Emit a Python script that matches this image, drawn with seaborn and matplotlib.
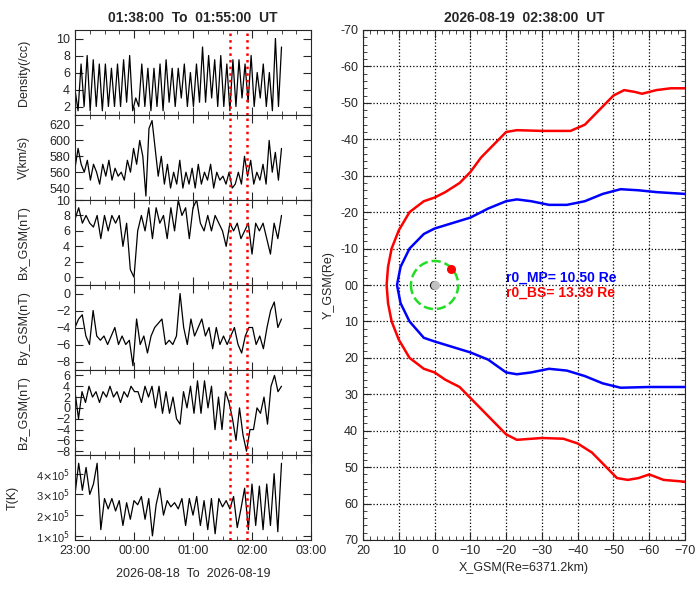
import numpy as np
import pandas as pd
import seaborn as sns
import matplotlib.pyplot as plt
import matplotlib.ticker as mticker

sns.set_style("ticks")
plt.rcParams['font.family'] = ['Liberation Sans', 'DejaVu Sans']
plt.rcParams['font.size'] = 9

# solar wind series (hours after 2026-08-18 23:00)
density = [4, 1.5, 7, 2, 8, 1.5, 7.5, 2, 7, 1.5, 7, 2, 6.5, 2, 7, 2, 7.5, 2.5, 8, 1.5, 3, 2, 7, 2, 6.5,
           1.5, 6.5, 2, 7, 1.5, 7.5, 2.5, 6.5, 2, 6.5, 3, 7, 2, 6, 2, 7, 2.5, 9, 2.5, 8, 3, 7.5, 2, 8, 2,
           7, 1.5, 7.5, 2, 7.5, 3, 7, 2.5, 8, 2, 6, 3, 7, 2, 6, 1.5, 10, 2, 9]
speed = [565, 590, 570, 560, 575, 550, 570, 560, 545, 570, 555, 575, 550, 565, 555, 560, 550, 575, 560, 590,
         570, 600, 580, 530, 615, 625, 590, 555, 580, 545, 570, 540, 560, 545, 575, 540, 560, 545, 565, 540,
         570, 545, 560, 550, 570, 540, 560, 550, 555, 545, 560, 540, 545, 560, 545, 580, 555, 575, 545, 560,
         550, 570, 545, 600, 560, 585, 550, 590]
bx = [7.5, 9, 7, 8, 7, 6.5, 8, 5, 8, 6, 8, 7, 8, 4, 7, 1, 0, 6, 8, 6, 9, 5, 9, 7, 8, 5, 9, 6, 10, 8, 9, 5,
      9, 10, 7, 6, 8, 6, 8, 7, 6, 4, 7, 6, 7, 5, 6, 7, 3, 7, 6, 7, 5, 3, 7, 5, 8]
by = [-4, -3, -2.5, -5, -6, -2, -5, -5.5, -5, -6, -5, -4, -6, -5, -6, -5.5, -8.5, -3, -6, -5, -7, -5, -4,
      -3.5, -3, -6, -5.5, -6, -5, 0, -4, -6, -3, -5, -4, -3, -5, -4, -6.5, -4, -6, -5, -6, -5, -4, -6, -7,
      -5, -4, -4, -6, -5, -6.5, -4, -2, -1, -4, -3]
bz = [3, -2, 3, 1, 4, 2, 3, 1, 3, 2, 4, 2, 3, 1, 3, 2, 4, 3, 3, 1, 4, 2, 4, 0, 4, -1, 3, -1, 2, -2, -3, 3,
      0, 4, -1, 5, -1, 5, 0, 4, -4, 2, -4, 3, 1, -2, -6, 0, -5, -8, -4, -4, 0, -1, 2, -3, 4, 6, 3, 4]
temp = [3, 4.5, 3.2, 4.3, 3, 3.5, 4.5, 1.3, 2.8, 2.3, 2.8, 2.2, 2.7, 1.5, 2.6, 1.8, 2.7, 2.5, 2.9, 1.8,
        2.8, 1, 2.5, 3.3, 2, 2.7, 2.4, 2.6, 2.3, 2.8, 1.5, 2.8, 2, 2.9, 1.5, 2.7, 1.3, 2.8, 1.1, 2.8, 2.4,
        2.7, 2.3, 2.9, 1.4, 2.3, 3.3, 1.3, 3.5, 1.5, 3.4, 1.3, 3.5, 1.5, 4, 1.2, 4.5]
window = [2 + 38 / 60, 2 + 55 / 60]

# magnetopause / bow shock (x, y) in Re
mp_x = [-70, -62, -57, -52, -47, -42, -37, -32, -27, -23, -20, -15, -10, -5, 0, 3, 7, 9.5, 10.5,
        9.5, 7, 3, 0, -5, -10, -15, -20, -23, -27, -32, -37, -42, -47, -52, -60, -70]
mp_y = [-25, -25.5, -26, -26.3, -25, -23, -22, -22, -23, -23.5, -23, -21, -18.5, -17, -15.5, -14, -10, -5, 0,
        5, 10, 14.5, 15.5, 17, 18.5, 20.5, 24, 24.5, 24, 23, 23.5, 25, 27, 28.2, 28, 28]
bs_x = [-70, -66, -62, -58, -56, -53, -50, -46, -42, -38, -30, -23, -20, -17, -13, -10, -7, -3, 0, 3, 7, 10,
        12, 13, 13.4, 13, 12, 10, 7, 3, 0, -3, -7, -10, -13, -17, -20, -23, -30, -36, -40, -44, -48, -51,
        -54, -57, -60, -64, -70]
bs_y = [-54, -54, -53.5, -52.5, -53, -53.5, -52, -48, -44, -42.3, -42.3, -42.5, -42, -39, -35, -31, -28,
        -25.5, -24, -23, -20, -15, -10, -5, 0, 5, 10, 15, 20, 23, 24, 26, 28, 31, 34, 38, 41, 42.5, 42, 42.2,
        43.5, 46, 50, 53, 53.5, 53, 52, 53.5, 54]
r_mp = 10.50
r_bs = 13.39
sat = (-4.6, -4.4)

fig = plt.figure(figsize=(7, 6), dpi=100)
panels = [
    (density, "Density(/cc)", (1, 11), [2, 4, 6, 8, 10]),
    (speed, "V(km/s)", (525, 632), [540, 560, 580, 600, 620]),
    (bx, "Bx_GSM(nT)", (-1, 10), [0, 2, 4, 6, 8, 10]),
    (by, "By_GSM(nT)", (-9, 1), [-8, -6, -4, -2, 0]),
    (bz, "Bz_GSM(nT)", (-8.7, 7), [-8, -6, -4, -2, 0, 2, 4, 6]),
    (temp, "T(K)", (0.8, 4.9), [1, 2, 3, 4]),
]
left, right, top, bottom = 75 / 700, 311 / 700, 1 - 30 / 600, 1 - 540 / 600
h = (top - bottom) / 6
axes = []
for i, (vals, lab, lim, ticks) in enumerate(panels):
    ax = fig.add_axes([left, top - (i + 1) * h, right - left, h])
    df = pd.DataFrame({"t": np.linspace(0, 3.5, len(vals)), "v": vals})
    sns.lineplot(data=df, x="t", y="v", ax=ax, color="black", lw=0.9, estimator=None, sort=False)
    for w in window:
        ax.axvline(w, color="red", ls=":", lw=1.8)
    ax.set_xlim(0, 4)
    ax.set_ylim(*lim)
    ax.set_yticks(ticks)
    ax.set_ylabel(lab)
    ax.set_xlabel("")
    ax.xaxis.set_major_locator(mticker.MultipleLocator(1))
    ax.xaxis.set_minor_locator(mticker.MultipleLocator(0.25))
    ax.tick_params(which="both", direction="in", top=True, right=True)
    ax.tick_params(which="major", length=6)
    ax.tick_params(which="minor", length=3)
    ax.yaxis.set_label_coords(-0.19, 0.5)
    if i < 5:
        ax.set_xticklabels([])
    axes.append(ax)
axes[-1].set_yticklabels([r"1$\times$10$^5$", r"2$\times$10$^5$", r"3$\times$10$^5$", r"4$\times$10$^5$"],
                         fontsize=8)
axes[-1].yaxis.set_label_coords(-0.24, 0.5)
axes[-1].set_xticks([0, 1, 2, 3, 4])
axes[-1].set_xticklabels(["23:00", "00:00", "01:00", "02:00", "03:00"])
axes[-1].set_xlabel("2026-08-18  To  2026-08-19", labelpad=8)
axes[0].set_title("01:38:00  To  01:55:00  UT", fontweight="bold", fontsize=10)

ax = fig.add_axes([363 / 700, bottom, 322 / 700, top - bottom])
sns.lineplot(x=mp_x, y=mp_y, sort=False, estimator=None, ax=ax, color="blue", lw=1.8)
sns.lineplot(x=bs_x, y=bs_y, sort=False, estimator=None, ax=ax, color="red", lw=1.8)
th = np.linspace(0, 2 * np.pi, 200)
ax.plot(6.6 * np.cos(th), 6.6 * np.sin(th), color="#22dd22", ls="--", lw=1.8)
ax.scatter([0.25], [0], s=30, color="black", zorder=5)
ax.scatter([-0.25], [0], s=30, color="silver", zorder=5)
ax.scatter([sat[0]], [sat[1]], s=30, color="red", zorder=5)
ax.text(-20, -1, f"r0_MP= {r_mp:.2f} Re", color="blue", fontweight="bold", fontsize=10)
ax.text(-20, 3.2, f"r0_BS= {r_bs:.2f} Re", color="red", fontweight="bold", fontsize=10)
ax.set_xlim(20, -70)
ax.set_ylim(70, -70)
ax.set_xticks(np.arange(20, -71, -10))
ax.set_yticks(np.arange(-70, 71, 10))
ax.set_yticklabels(["-70", "-60", "-50", "-40", "-30", "-20", "-10", "00",
                    "10", "20", "30", "40", "50", "60", "70"])
ax.xaxis.set_minor_locator(mticker.MultipleLocator(2))
ax.yaxis.set_minor_locator(mticker.MultipleLocator(2))
ax.tick_params(which="both", direction="in", top=True, right=True)
ax.tick_params(which="major", length=6)
ax.tick_params(which="minor", length=3)
ax.grid(True, color="black", ls=":", lw=0.9)
ax.set_xlabel("X_GSM(Re=6371.2km)")
ax.set_ylabel("Y_GSM(Re)")
ax.set_title("2026-08-19  02:38:00  UT", fontweight="bold", fontsize=10)

fig.savefig("out.png", dpi=100)
